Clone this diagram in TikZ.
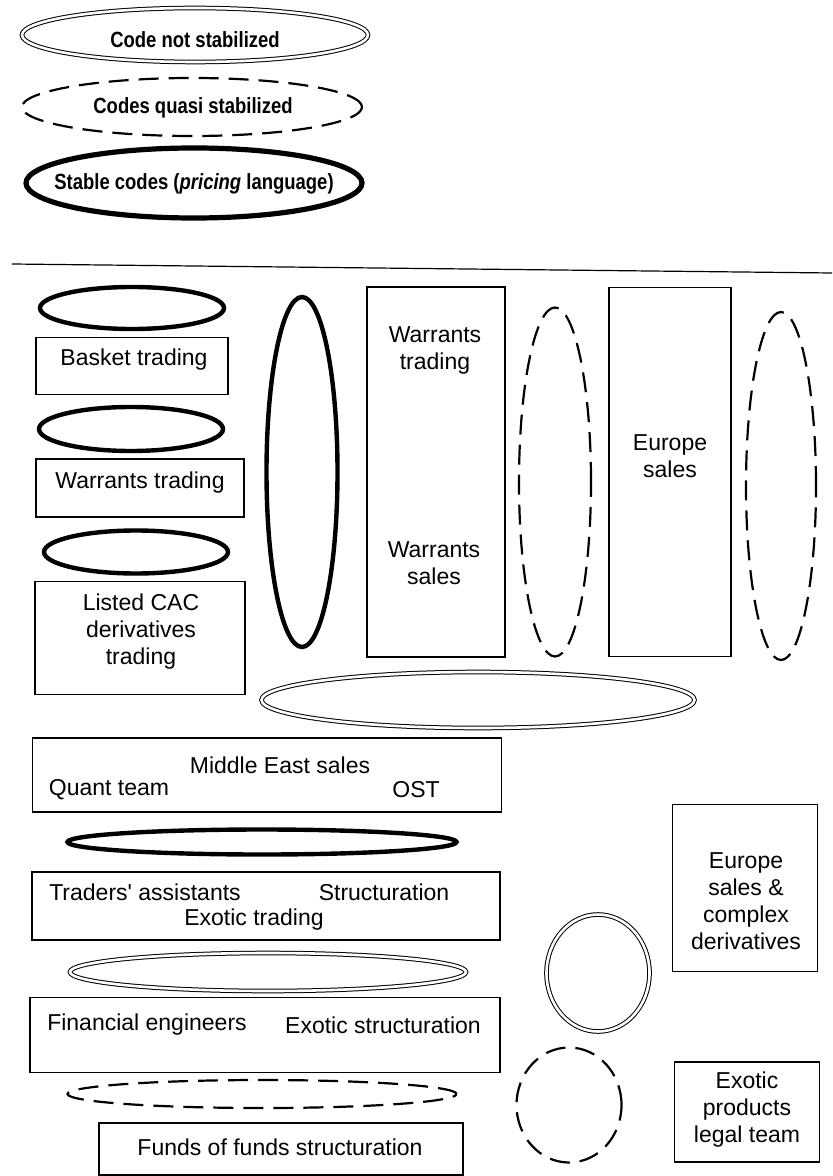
\documentclass[tikz,border=0pt]{standalone}
\usepackage{fontspec}
\setmainfont{Liberation Sans}
\newfontfamily\legendfont[FakeStretch=0.84]{Liberation Sans}
\usetikzlibrary{shapes.geometric}
\tikzset{
  notstab/.style={ellipse, draw, double, double distance=1.3pt,
    line width=0.5pt, inner sep=0pt},
  quasistab/.style={ellipse, draw, line width=1.1pt,
    dash pattern=on 10pt off 5pt, inner sep=0pt},
  stab/.style={ellipse, draw, line width=2.2pt, inner sep=0pt},
  team/.style={rectangle, draw, line width=0.6pt, inner sep=0pt},
  lbl/.style={inner sep=0pt, align=center,
    font=\fontsize{11.5}{13.5}\selectfont},
  leg/.style={inner sep=0pt, font=\fontsize{11}{13}\selectfont\legendfont\bfseries},
}

\begin{document}
\begin{tikzpicture}[x=0.5pt, y=-0.5pt]
  \useasboundingbox (0,0) rectangle (832,1176);

  % Legend
  \node[notstab, minimum width=173pt, minimum height=27pt] (cns) at (195,35) {};
  \node[leg] (cnslbl) at (195,40) {Code not stabilized};
  \node[quasistab, minimum width=170pt, minimum height=29pt] (cqs) at (192,107) {};
  \node[leg] (cqslbl) at (193,108) {Codes quasi stabilized};
  \node[stab, line width=2.6pt, minimum width=168pt, minimum height=35pt] (sc) at (194,183) {};
  \node[leg] (sclbl) at (194,184) {Stable codes (\textit{pricing} language)};

  \coordinate (sepL) at (12,264);
  \coordinate (sepR) at (832,273);
  \draw[line width=0.6pt] (sepL) -- (sepR);

  % Left column
  \node[stab, minimum width=92pt, minimum height=21pt] (basketcode) at (132,308) {};
  \node[team, minimum width=96pt, minimum height=28.5pt] (basket) at (132,366) {};
  \node[lbl] at (134,360) {Basket trading};
  \node[stab, minimum width=92pt, minimum height=22pt] (warrcode) at (131,429) {};
  \node[team, minimum width=104pt, minimum height=29pt] (warrtrade) at (140,488) {};
  \node[lbl] at (140,483) {Warrants trading};
  \node[stab, minimum width=92pt, minimum height=21.5pt] (caccode) at (136,552) {};
  \node[team, minimum width=105pt, minimum height=56.5pt] (cac) at (140,638) {};
  \node[lbl] at (141,632) {Listed CAC\\derivatives\\trading};
  \node[stab, minimum width=35.5pt, minimum height=175pt] (tallcode) at (302,472) {};

  % Warrants and Europe
  \node[team, minimum width=69pt, minimum height=185pt] (warrants) at (436,472) {};
  \node[lbl] at (435,350) {Warrants\\trading};
  \node[lbl] at (434,563) {Warrants\\sales};
  \node[quasistab, minimum width=36pt, minimum height=174.5pt] (warrquasi) at (555,482) {};
  \node[team, minimum width=61pt, minimum height=184.5pt] (europe) at (670,472) {};
  \node[lbl] at (670,456) {Europe\\sales};
  \node[quasistab, minimum width=35pt, minimum height=174pt] (euroquasi) at (781,486) {};
  \node[notstab, minimum width=216.5pt, minimum height=28pt] (widecode) at (478,700) {};

  % Lower column
  \node[team, minimum width=234.5pt, minimum height=37pt] (mideast) at (267,775) {};
  \node[lbl] at (280,765) {Middle East sales};
  \node[lbl] at (109,790) {Quant team};
  \node[lbl] at (416,790) {OST};
  \node[stab, minimum width=194.5pt, minimum height=12.5pt] (flatcode) at (262,842) {};
  \node[team, minimum width=234pt, minimum height=34pt] (traders) at (266,906) {};
  \node[lbl] at (145,892) {Traders\textquotesingle{} assistants};
  \node[lbl] at (384,892) {Structuration};
  \node[lbl] at (254,920) {Exotic trading};
  \node[notstab, minimum width=198pt, minimum height=19pt] (flatnot) at (268,972) {};
  \node[team, minimum width=235pt, minimum height=37.5pt] (fineng) at (265,1035) {};
  \node[lbl] at (147,1025) {Financial engineers};
  \node[lbl] at (383,1025) {Exotic structuration};
  \node[quasistab, minimum width=194.5pt, minimum height=14pt] (flatquasi) at (262,1094) {};
  \node[team, minimum width=182pt, minimum height=26pt] (funds) at (281,1149) {};
  \node[lbl] at (280,1147) {Funds of funds structuration};

  % Right bottom
  \node[team, minimum width=72.5pt, minimum height=83.5pt] (complex) at (745,888) {};
  \node[lbl] at (746,901) {Europe\\sales \&\\complex\\derivatives};
  \node[notstab, minimum width=51.5pt, minimum height=58.5pt] (roundnot) at (598,973) {};
  \node[quasistab, minimum width=52.5pt, minimum height=57.5pt] (roundquasi) at (569,1105) {};
  \node[team, minimum width=72.5pt, minimum height=50pt] (legal) at (747,1112) {};
  \node[lbl] at (747,1110) {Exotic\\products\\legal team};

\end{tikzpicture}
\end{document}
